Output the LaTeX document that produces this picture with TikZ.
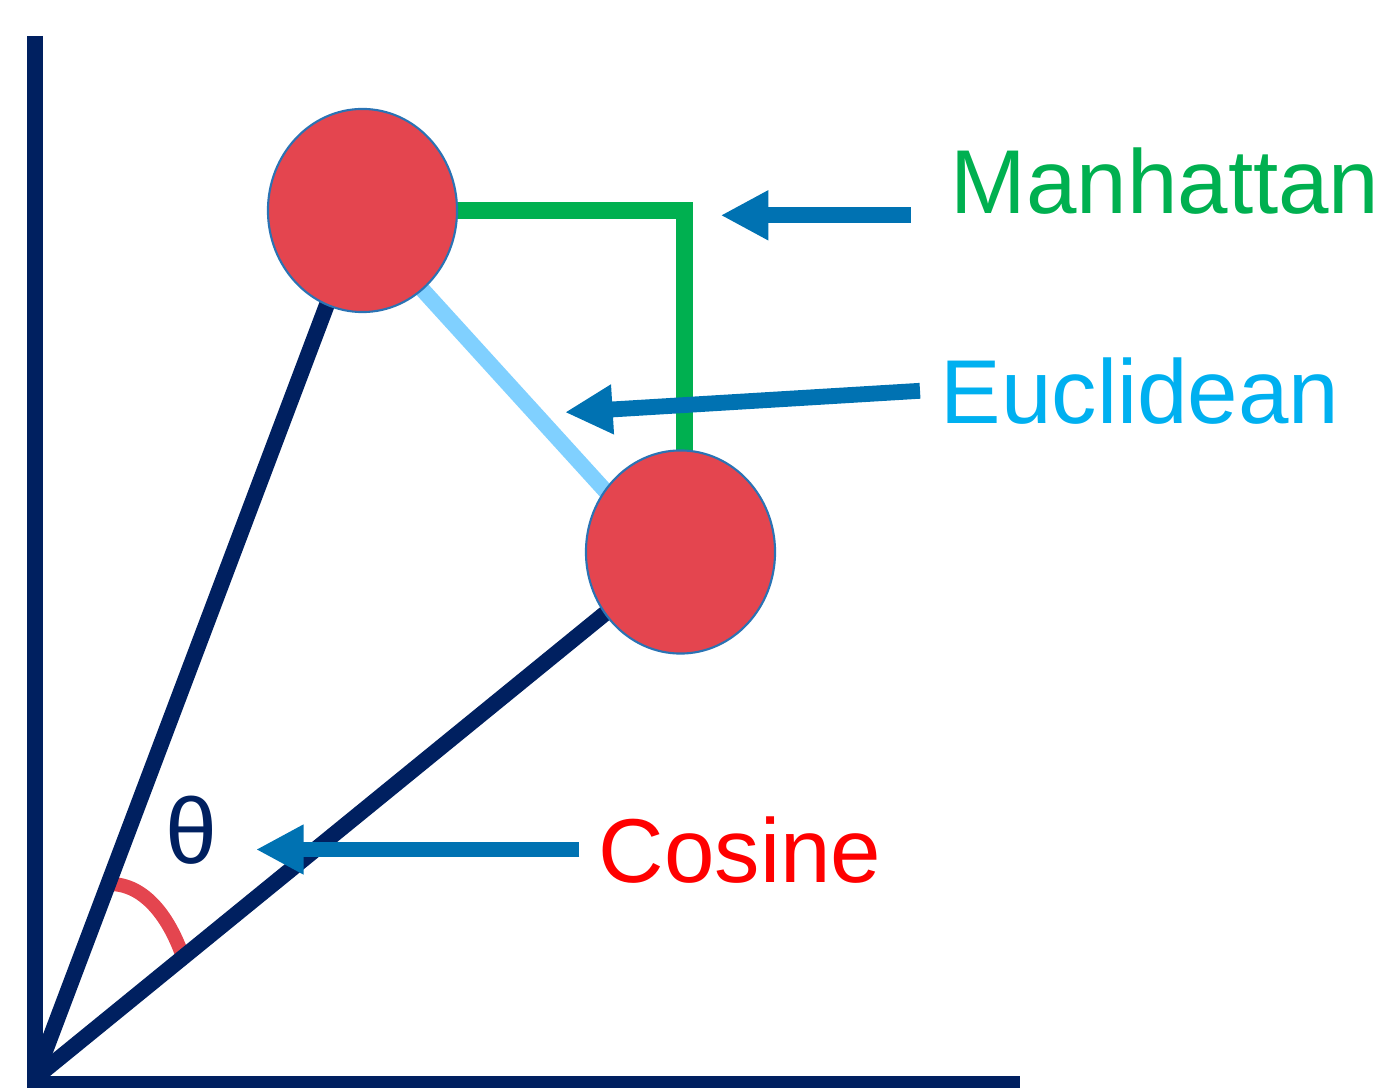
\documentclass[tikz,border=0pt]{standalone}
\usepackage{fontspec}
\setmainfont{Liberation Sans}
\usetikzlibrary{arrows.meta,shapes.geometric}
\definecolor{navy}{HTML}{002060}
\definecolor{dotred}{HTML}{E4454F}
\definecolor{dotrim}{HTML}{2A73B4}
\definecolor{mgreen}{HTML}{00B050}
\definecolor{eline}{HTML}{80D0FF}
\definecolor{etext}{HTML}{00B0F0}
\definecolor{pointer}{HTML}{0072B2}
\tikzset{
  axisline/.style={draw=navy, line width=4.6pt, line cap=butt},
  vecline/.style={draw=navy, line width=4.5pt, line cap=butt},
  dot/.style={ellipse, fill=dotred, draw=dotrim, line width=0.6pt,
    minimum width=1.89cm, minimum height=2.03cm, inner sep=0pt},
  manline/.style={draw=mgreen, line width=4.6pt, line join=miter, line cap=butt},
  eucline/.style={draw=eline, line width=4.5pt, line cap=butt},
  anglearc/.style={draw=dotred, line width=4.0pt, line cap=butt},
  pointerarrow/.style={draw=pointer, line width=4.5pt, line cap=butt,
    -{Triangle[length=0.476cm,width=0.466cm]}},
  lbl/.style={inner sep=0pt, anchor=base west,
    font=\fontsize{25.8pt}{30pt}\selectfont},
}
\begin{document}
\begin{tikzpicture}[x=0.01cm, y=-0.01cm]
  \useasboundingbox (0,0) rectangle (1387,1088);

  % key points
  \coordinate (o)  at (35,1078);
  \coordinate (p1) at (362.5,210.5);
  \coordinate (p2) at (680.5,552);
  \coordinate (ytop) at (35.3,36);
  \coordinate (ybot) at (35.3,1088);
  \coordinate (xl) at (27,1084);
  \coordinate (xr) at (1020,1084);
  \coordinate (mc) at (684.5,210.5);
  \coordinate (e1) at (350,210);
  \coordinate (e2) at (661,552);

  % axes
  \draw[axisline] (ytop) -- (ybot);
  \draw[axisline] (xl) -- (xr);

  % angle between the two vectors
  \draw[anglearc] (110,884) .. controls (145,884) and (170,918) .. (184,960);

  % vectors from the origin
  \draw[vecline] (o) -- (p1);
  \draw[vecline] (o) -- (p2);

  % Manhattan and Euclidean paths
  \draw[manline] (p1) -- (mc) -- (mc |- p2);
  \draw[eucline] (e1) -- (e2);

  % the two points
  \node[dot] (a) at (p1) {};
  \node[dot] (b) at (p2) {};

  % labels
  \node[lbl, text=mgreen] (man) at (950,213.3) {Manhattan};
  \node[lbl, text=etext] (euc) at (940,423.3) {Euclidean};
  \node[lbl, text=red] (cos) at (598,882) {Cosine};
  \node[inner sep=0pt, text=navy, font=\fontsize{26.5pt}{30pt}\selectfont] (th) at (191.5,830.5) {θ};

  % pointers
  \coordinate (m0) at (910.7,215.3);
  \coordinate (m1) at (720.7,215.3);
  \coordinate (u0) at (920,390.8);
  \coordinate (u1) at (565,412.3);
  \coordinate (c0) at (579.3,849.5);
  \coordinate (c1) at (256,849.5);
  \draw[pointerarrow] (m0) -- (m1);
  \draw[pointerarrow] (u0) -- (u1);
  \draw[pointerarrow] (c0) -- (c1);
\end{tikzpicture}
\end{document}
